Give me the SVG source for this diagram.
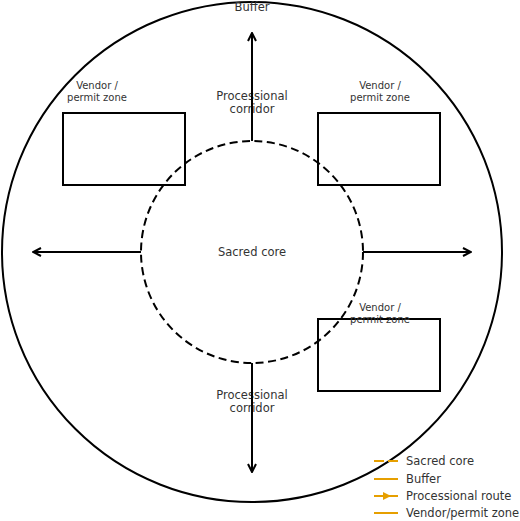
<svg xmlns="http://www.w3.org/2000/svg" width="520" height="521" viewBox="0 0 520 521">
<defs>
<style>
.t{font-family:"DejaVu Sans","Liberation Sans",sans-serif;fill:#333;text-anchor:middle}
.m{font-size:11.5px}
.v{font-size:10px}
.lg{font-family:"DejaVu Sans","Liberation Sans",sans-serif;fill:#333;font-size:11.5px}
.zone{fill:none;stroke:#000;stroke-width:2}
.arr{stroke:#000;stroke-width:2;fill:none;marker-end:url(#head)}
.leg{stroke:#e69f00;stroke-width:2;fill:none}
</style>
<marker id="head" viewBox="0 0 10 10" refX="9" refY="5" markerWidth="5" markerHeight="5" markerUnits="strokeWidth" orient="auto">
<path d="M1,1 L9,5 L1,9" fill="none" stroke="#000" stroke-width="2"/>
</marker>
<marker id="lhead" viewBox="0 0 10 10" refX="5" refY="5" markerWidth="4" markerHeight="4" markerUnits="strokeWidth" orient="auto">
<path d="M0,0 L10,5 L0,10 Z" fill="#e69f00"/>
</marker>
</defs>
<rect width="520" height="521" fill="#fff"/>
<g id="buffer">
<circle cx="252" cy="252" r="250" class="zone"/>
<text class="t m" x="252" y="11">Buffer</text>
</g>
<g id="sacred-core">
<circle cx="252" cy="252" r="111" fill="none" stroke="#000" stroke-width="2" stroke-dasharray="8,4.5"/>
<text class="t m" x="252" y="256">Sacred core</text>
</g>
<g id="vendor-nw">
<rect x="63" y="113" width="122" height="72" class="zone"/>
<text class="t v" x="97" y="89">Vendor /</text>
<text class="t v" x="97" y="101">permit zone</text>
</g>
<g id="vendor-ne">
<rect x="318" y="113" width="122" height="72" class="zone"/>
<text class="t v" x="380" y="89">Vendor /</text>
<text class="t v" x="380" y="101">permit zone</text>
</g>
<g id="vendor-se">
<rect x="318" y="319" width="122" height="72" class="zone"/>
<text class="t v" x="380" y="311">Vendor /</text>
<text class="t v" x="380" y="323">permit zone</text>
</g>
<g id="corridor-labels">
<text class="t m" x="252" y="100">Processional</text>
<text class="t m" x="252" y="113">corridor</text>
<text class="t m" x="252" y="399">Processional</text>
<text class="t m" x="252" y="412">corridor</text>
</g>
<g id="connectors">
<line x1="252" y1="141" x2="252" y2="33" class="arr"/>
<line x1="252" y1="363" x2="252" y2="472" class="arr"/>
<line x1="141" y1="252" x2="33" y2="252" class="arr"/>
<line x1="363" y1="252" x2="471" y2="252" class="arr"/>
</g>
<g id="legend">
<line x1="374" y1="461" x2="398" y2="461" class="leg" stroke-dasharray="10,4"/>
<text class="lg" x="406" y="465">Sacred core</text>
<line x1="374" y1="479" x2="398" y2="479" class="leg"/>
<text class="lg" x="406" y="483">Buffer</text>
<line x1="374" y1="496" x2="387" y2="496" class="leg" marker-end="url(#lhead)"/>
<line x1="386" y1="496" x2="398" y2="496" class="leg"/>
<text class="lg" x="406" y="500">Processional route</text>
<line x1="374" y1="513" x2="398" y2="513" class="leg"/>
<text class="lg" x="406" y="517">Vendor/permit zone</text>
</g>
</svg>
